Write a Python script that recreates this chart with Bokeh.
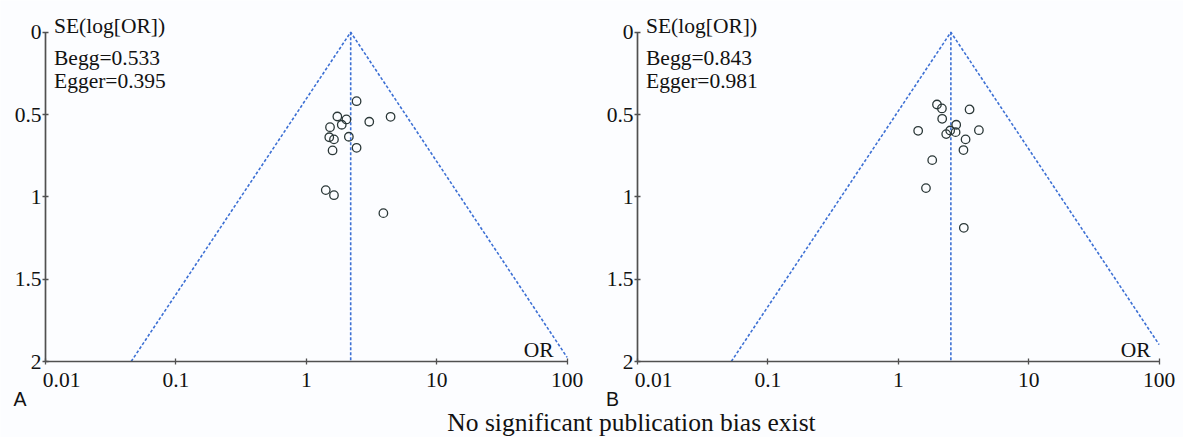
import math
from bokeh.plotting import figure
from bokeh.models import Range1d, FixedTicker, Label, LogScale, LogAxis, LinearAxis
from bokeh.embed import file_html
from bokeh.resources import INLINE

# ---------------- data ----------------
x_ticks = [0.01, 0.1, 1, 10, 100]
x_tick_labels = ["\u00a0" * 6 + "0.01", "0.1", "1", "10", "100"]
y_ticks = [0, 0.5, 1, 1.5, 2]
y_tick_labels = ["0", "0.5", "1", "1.5", "2"]

# Panel A
a_or = [2.43, 1.73, 2.03, 1.87, 1.52, 3.04, 4.43, 1.50, 1.63, 2.12, 1.59, 2.43, 1.41, 1.63, 3.90]
a_se = [0.419, 0.512, 0.530, 0.562, 0.577, 0.544, 0.514, 0.638, 0.651, 0.635, 0.718, 0.702, 0.959, 0.990, 1.099]
a_pooled = 2.19
a_funnel_lo = 0.0454   # OR of left funnel edge at SE = 2
a_funnel_hi = 105.0    # OR of right funnel edge at SE = 2
a_begg = "Begg=0.533"
a_egger = "Egger=0.395"

# Panel B
b_or = [1.98, 2.16, 3.52, 2.17, 2.78, 1.42, 2.50, 2.33, 2.75, 4.15, 3.28, 3.16, 1.82, 1.63, 3.18]
b_se = [0.439, 0.463, 0.469, 0.526, 0.562, 0.599, 0.597, 0.619, 0.607, 0.595, 0.651, 0.716, 0.777, 0.947, 1.188]
b_pooled = 2.53
b_funnel_lo = 0.0524
b_funnel_hi = 122.0
b_begg = "Begg=0.843"
b_egger = "Egger=0.981"

title_text = "No significant publication bias exist"

se_max = 2.0
or_min, or_max = 0.01, 100.0

# ---------------- style / geometry ----------------
SERIF = "Liberation Serif"
SANS = "Liberation Sans"
BG = "#fcfdff"
AXIS_C = "#505050"
TEXT_C = "#121212"
BLUE = "#3d70d4"
PT_C = "#2b3838"

W, H = 1183, 437
DEC = 130.4      # px per decade
SE_PX = 164.65   # px per SE unit
SE0_Y = 31.7     # canvas y of SE = 0
AX_A = 45        # canvas x of OR = 0.01, panel A
AX_B = 637       # canvas x of OR = 0.01, panel B


def log_range(axis_x):
    return Range1d(10 ** (math.log10(or_min) - axis_x / DEC),
                   10 ** (math.log10(or_min) + (W - axis_x) / DEC))


p = figure(width=W, height=H, x_axis_type="log",
           x_range=log_range(AX_A),
           y_range=Range1d((H - SE0_Y) / SE_PX, -SE0_Y / SE_PX),
           output_backend="svg", toolbar_location=None, title=None,
           min_border=0, min_border_left=0, min_border_right=0,
           min_border_top=0, min_border_bottom=0)
p.extra_x_ranges = {"b": log_range(AX_B)}
p.extra_x_scales = {"b": LogScale()}
p.background_fill_color = BG
p.border_fill_color = BG
p.outline_line_color = None
p.grid.visible = False

# axes: panel A uses the default axes, panel B gets its own on range "b"
p.xaxis[0].fixed_location = se_max
p.yaxis[0].fixed_location = or_min
xb = LogAxis(x_range_name="b", fixed_location=se_max)
yb = LinearAxis(x_range_name="b", fixed_location=or_min)
p.add_layout(xb, "below")
p.add_layout(yb, "left")

for ax in (p.xaxis[0], xb):
    ax.bounds = (or_min, or_max)
    ax.ticker = FixedTicker(ticks=x_ticks)
    ax.major_label_overrides = {t: l for t, l in zip(x_ticks, x_tick_labels)}
    ax.major_label_standoff = 3
for ax in (p.yaxis[0], yb):
    ax.bounds = (0, se_max)
    ax.ticker = FixedTicker(ticks=y_ticks)
    ax.major_label_overrides = {t: l for t, l in zip(y_ticks, y_tick_labels)}
    ax.major_label_standoff = 1
for ax in (p.xaxis[0], p.yaxis[0], xb, yb):
    ax.axis_line_color = AXIS_C
    ax.axis_line_width = 1.7
    ax.major_tick_line_color = AXIS_C
    ax.major_tick_line_width = 1.3
    ax.major_tick_in = 3
    ax.major_tick_out = 3
    ax.minor_tick_line_color = None
    ax.major_label_text_font = SERIF
    ax.major_label_text_font_size = "21.5px"
    ax.major_label_text_color = TEXT_C


def px_to_or(px):
    # canvas x -> OR on the default (panel A) range; used for text placement only
    return 10 ** (math.log10(or_min) + (px - AX_A) / DEC)


def px_to_se(py):
    return (py - SE0_Y) / SE_PX


def lab(px, py, text, font=SERIF, size="21.5px", align="left"):
    p.add_layout(Label(x=px_to_or(px), y=px_to_se(py), text=text,
                       text_font=font, text_font_size=size, text_color=TEXT_C,
                       text_align=align, text_baseline="alphabetic"))


def draw_panel(rname, axis_x, or_vals, se_vals, pooled, lo, hi, begg, egger, letter,
               or_right_px, letter_px):
    kw = {} if rname is None else {"x_range_name": rname}
    se_hi = se_max * (math.log(or_max) - math.log(pooled)) / (math.log(hi) - math.log(pooled))
    if se_hi < se_max:
        hi_x, hi_y = or_max, se_hi
    else:
        hi_x, hi_y = hi, se_max
    p.line([lo, pooled, hi_x], [se_max, 0, hi_y], line_color=BLUE, line_width=1.6,
           line_dash="3 2", **kw)
    p.line([pooled, pooled], [0, se_max], line_color=BLUE, line_width=1.6,
           line_dash="3 2", **kw)
    p.scatter(or_vals, se_vals, marker="circle", size=8.5, fill_color=None,
              line_color=PT_C, line_width=1.3, **kw)

    lab(axis_x + 8.5, 25.5, "SE(log[OR])")
    lab(axis_x + 8.5, 57.3, begg)
    lab(axis_x + 8.5, 80.3, egger)
    lab(axis_x + or_right_px, 349.7, "OR", align="right")
    lab(axis_x + letter_px, 398, letter, font=SANS, size="19.5px", align="center")


draw_panel(None, AX_A, a_or, a_se, a_pooled, a_funnel_lo, a_funnel_hi, a_begg, a_egger,
           "A", 508, -25.5)
draw_panel("b", AX_B, b_or, b_se, b_pooled, b_funnel_lo, b_funnel_hi, b_begg, b_egger,
           "B", 513, -25)

lab(631, 421.5, title_text, size="25.5px", align="center")

open("out.html", "w").write(file_html(p, INLINE))
